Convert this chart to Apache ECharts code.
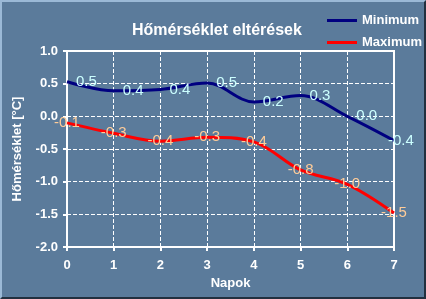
<!DOCTYPE html>
<html>
<head>
<meta charset="utf-8">
<script src="https://cdn.jsdelivr.net/npm/echarts@6/dist/echarts.min.js"></script>
<style>
html,body{margin:0;padding:0;background:#5b7b9b;}
#wrap{position:absolute;left:0;top:0;width:426px;height:299px;box-sizing:border-box;border-left:2px solid #9bb9d6;border-top:2px solid #9bb9d6;border-right:2px solid #22303f;border-bottom:2px solid #22303f;background:#5b7b9b;}
#chart{position:absolute;left:-2px;top:-2px;width:426px;height:299px;}
</style>
</head>
<body>
<div id="wrap"><div id="chart"></div></div>
<script>
const days = [0, 1, 2, 3, 4, 5, 6, 7];
const minimum = [0.53, 0.39, 0.41, 0.51, 0.22, 0.32, 0.0, -0.37];
const maximum = [-0.1, -0.26, -0.38, -0.32, -0.39, -0.82, -1.04, -1.48];
const yTicks = [-2.0, -1.5, -1.0, -0.5, 0.0, 0.5, 1.0];

const chart = echarts.init(document.getElementById('chart'));
const font = 'Liberation Sans, Arial, sans-serif';
function mk(name, vals, color, labelColor, pos, dist, lastDist) {
  return {
    name: name, type: 'line', smooth: 0.35, symbol: 'circle', symbolSize: 0, showSymbol: true,
    data: days.map((d, i) => {
      const item = {value: [d, vals[i]]};
      if (i === days.length - 1 && lastDist !== undefined) item.label = {distance: lastDist};
      return item;
    }),
    lineStyle: {color: color, width: 3},
    itemStyle: {color: color},
    label: {show: true, position: pos, distance: dist, color: labelColor,
      fontFamily: font, fontSize: 15,
      formatter: p => p.value[1].toFixed(1)},
    z: 3
  };
}
chart.setOption({
  animation: false,
  backgroundColor: 'transparent',
  title: {text: 'Hőmérséklet eltérések', left: 127, top: 18,
    textStyle: {color: '#ffffff', fontFamily: font, fontSize: 16, fontWeight: 'bold'}},
  legend: {orient: 'vertical', left: 322, top: 9, itemWidth: 30, itemHeight: 12, itemGap: 9,
    data: [{name: 'Minimum', icon: 'path://M0,4.5 L30,4.5 L30,7.5 L0,7.5 Z'}, {name: 'Maximum', icon: 'path://M0,4.5 L30,4.5 L30,7.5 L0,7.5 Z'}],
    textStyle: {color: '#ffffff', fontFamily: font, fontSize: 13, fontWeight: 'bold'}},
  grid: {left: 67, right: 32, top: 51, bottom: 52, show: true, borderColor: '#ffffff', borderWidth: 2, backgroundColor: 'transparent'},
  xAxis: {type: 'value', min: 0, max: 7, interval: 1,
    name: 'Napok', nameLocation: 'middle', nameGap: 30,
    nameTextStyle: {color: '#ffffff', fontFamily: font, fontSize: 13, fontWeight: 'bold'},
    axisLine: {onZero: false, lineStyle: {color: '#ffffff', width: 2}},
    axisTick: {show: true, length: 4, lineStyle: {color: '#ffffff', width: 2}},
    axisLabel: {color: '#ffffff', fontFamily: font, fontSize: 13, fontWeight: 'bold', margin: 12},
    splitLine: {show: true, lineStyle: {color: '#ffffff', type: [4, 2], width: 1}}},
  yAxis: {type: 'value', min: -2, max: 1, interval: 0.5,
    name: 'Hőmérséklet [°C]', nameLocation: 'middle', nameGap: 43,
    nameTextStyle: {color: '#ffffff', fontFamily: font, fontSize: 13, fontWeight: 'bold'},
    axisLine: {show: true, onZero: false, lineStyle: {color: '#ffffff', width: 2}},
    axisTick: {show: true, length: 4, lineStyle: {color: '#ffffff', width: 2}},
    axisLabel: {color: '#ffffff', fontFamily: font, fontSize: 13, fontWeight: 'bold', margin: 9,
      formatter: v => v.toFixed(1)},
    splitLine: {show: true, lineStyle: {color: '#ffffff', type: [4, 2], width: 1}}},
  series: [
    mk('Minimum', minimum, '#000080', '#ccffff', 'right', 9, -6),
    mk('Maximum', maximum, '#ff0000', '#ffcc99', 'inside', 0)
  ]
});
</script>
</body>
</html>
